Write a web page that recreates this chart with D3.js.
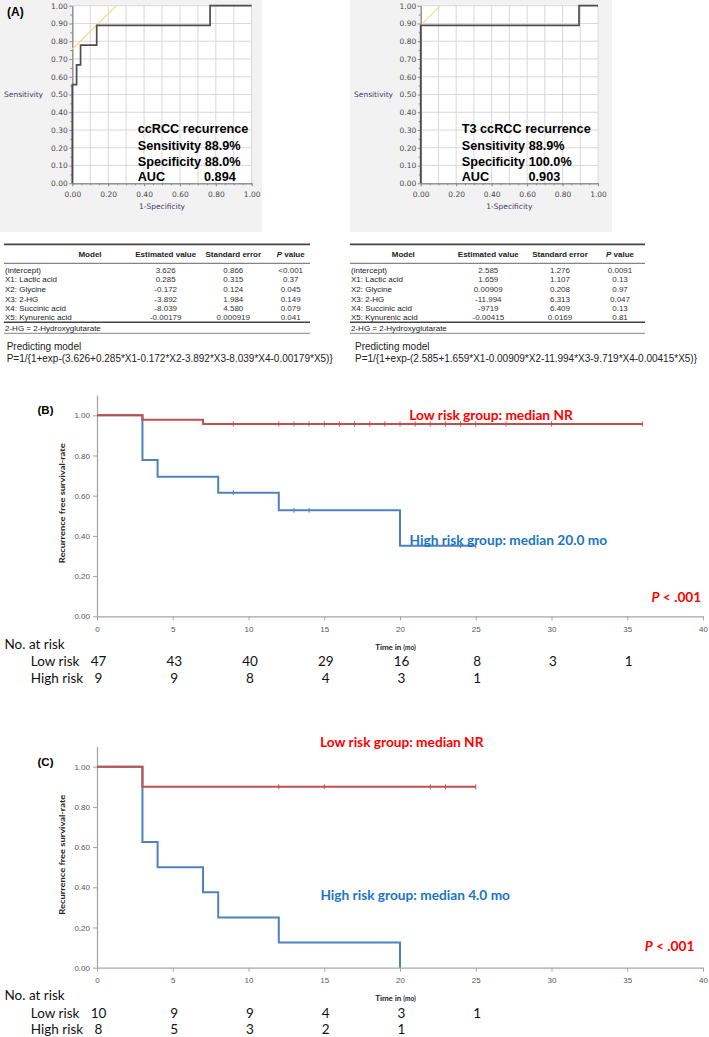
<!DOCTYPE html>
<html><head><meta charset="utf-8">
<script src="https://cdn.jsdelivr.net/npm/d3@7"></script>
<style>body{margin:0;background:#fff} svg{display:block}</style>
</head><body>
<svg id="fig" width="709" height="1037"></svg>
<script>
// ================= DATA =================
// ROC (A)
const rocTicks = [0, 0.1, 0.2, 0.3, 0.4, 0.5, 0.6, 0.7, 0.8, 0.9, 1.0];
const rocXLabels = [0, 0.2, 0.4, 0.6, 0.8, 1.0];
const rocMinor = [0.05, 0.15, 0.25, 0.35, 0.45, 0.55, 0.65, 0.75, 0.85, 0.95];
const rocFprA = [0, 0, 0.024, 0.024, 0.046, 0.046, 0.136, 0.136, 0.768, 0.768, 1];
const rocTprA = [0, 0.556, 0.556, 0.667, 0.667, 0.778, 0.778, 0.889, 0.889, 1, 1];
const cutLineA = [[0, 0.755], [0.245, 1]];
const rocFprB = [0, 0, 0.893, 0.893, 1];
const rocTprB = [0, 0.889, 0.889, 1, 1];
const cutLineB = [[0, 0.889], [0.111, 1]];
const rocTextA = ["ccRCC recurrence", "Sensitivity 88.9%", "Specificity 88.0%", "AUC"];
const aucA = "0.894";
const rocTextB = ["T3 ccRCC recurrence", "Sensitivity 88.9%", "Specificity 100.0%", "AUC"];
const aucB = "0.903";

// Tables
const tableHeaders = ["Model", "Estimated value", "Standard error", "P value"];
const modelTerms = ["(intercept)", "X1: Lactic acid", "X2: Glycine", "X3: 2-HG", "X4: Succinic acid", "X5: Kynurenic acid"];
const estA = ["3.626", "0.285", "-0.172", "-3.892", "-8.039", "-0.00179"];
const seA  = ["0.866", "0.315", "0.124", "1.984", "4.580", "0.000919"];
const pA   = ["<0.001", "0.37", "0.045", "0.149", "0.079", "0.041"];
const estB = ["2.585", "1.659", "0.00909", "-11.994", "-9719", "-0.00415"];
const seB  = ["1.276", "1.107", "0.208", "6.313", "6.409", "0.0169"];
const pB   = ["0.0091", "0.13", "0.97", "0.047", "0.13", "0.81"];
const footnote = "2-HG = 2-Hydroxyglutarate";
const formulaTitle = "Predicting model";
const formulaA = "P=1/{1+exp-(3.626+0.285*X1-0.172*X2-3.892*X3-8.039*X4-0.00179*X5)}";
const formulaB = "P=1/{1+exp-(2.585+1.659*X1-0.00909*X2-11.994*X3-9.719*X4-0.00415*X5)}";

// Kaplan-Meier
const kmTicksX = [0, 5, 10, 15, 20, 25, 30, 35, 40];
const kmTicksY = [0, 0.2, 0.4, 0.6, 0.8, 1.0];
// (B)
const bLowT = [0, 3, 7];
const bLowS = [1, 0.978, 0.957];
const bLowEnd = 36;
const bLowCens = [9, 12, 13, 14, 15, 16, 17, 18, 19, 20, 21, 22, 23, 24, 25, 27, 30, 36];
const bHighT = [0, 3, 4, 8, 12, 20];
const bHighS = [1, 0.778, 0.694, 0.615, 0.527, 0.351];
const bHighEnd = 25;
const bHighCens = [9, 13, 14, 24, 25];
// (C)
const cLowT = [0, 3];
const cLowS = [1, 0.9];
const cLowEnd = 25;
const cLowCens = [12, 15, 22, 23, 25];
const cHighT = [0, 3, 4, 7, 8, 12, 20];
const cHighS = [1, 0.625, 0.5, 0.375, 0.25, 0.125, 0];
const cHighEnd = 20;
const cHighCens = [];
// numbers at risk
const riskTimes = [0, 5, 10, 15, 20, 25, 30, 35];
const bRiskLow = [47, 43, 40, 29, 16, 8, 3, 1];
const bRiskHigh = [9, 9, 8, 4, 3, 1];
const cRiskLow = [10, 9, 9, 4, 3, 1];
const cRiskHigh = [8, 5, 3, 2, 1];
const lowLabelB = "Low risk group: median NR";
const highLabelB = "High risk group: median 20.0 mo";
const lowLabelC = "Low risk group: median NR";
const highLabelC = "High risk group: median 4.0 mo";

// ================= DRAWING =================
const svg = d3.select("#fig");
const F_ARIAL = "'Liberation Sans', Arial, sans-serif";
const F_TAH = "'DejaVu Sans', Verdana, sans-serif";
const F_CAL = "Lato, 'Open Sans', sans-serif";

function txt(g, x, y, s, o = {}) {
  const t = g.append("text").attr("x", x).attr("y", y).attr("dy", "0.35em")
    .attr("font-family", o.ff || F_ARIAL).attr("font-size", o.fs || 10)
    .attr("fill", o.fill || "#000").attr("text-anchor", o.anchor || "start")
    .attr("font-weight", o.fw || "normal").text(s);
  if (o.fst) t.attr("font-style", o.fst);
  return t;
}

// ---------- ROC panels ----------
function rocPanel(o) {
  const g = svg.append("g");
  g.append("rect").attr("x", o.bgx0).attr("y", 0).attr("width", o.bgx1 - o.bgx0).attr("height", 232).attr("fill", "#f2f2f2");
  const x = d3.scaleLinear([0, 1], [o.x0, o.x1]);
  const y = d3.scaleLinear([0, 1], [183.3, 5.7]);
  g.append("rect").attr("x", x(0)).attr("y", y(1)).attr("width", x(1) - x(0)).attr("height", y(0) - y(1)).attr("fill", "#fff");
  // grid
  g.selectAll(".gv").data(rocTicks.slice(1)).join("line")
    .attr("x1", d => x(d)).attr("x2", d => x(d)).attr("y1", y(0)).attr("y2", y(1))
    .attr("stroke", "#d8d8d8").attr("stroke-width", 1);
  g.selectAll(".gh").data(rocTicks.slice(1)).join("line")
    .attr("y1", d => y(d)).attr("y2", d => y(d)).attr("x1", x(0)).attr("x2", x(1))
    .attr("stroke", "#d8d8d8").attr("stroke-width", 1);
  // axes
  const ax = g.append("g").attr("transform", `translate(0,${y(0)})`)
    .call(d3.axisBottom(x).tickValues(rocXLabels).tickFormat(d3.format(".2f")).tickSize(3).tickSizeOuter(0).tickPadding(5));
  const axm = g.append("g").attr("transform", `translate(0,${y(0)})`)
    .call(d3.axisBottom(x).tickValues(rocTicks.concat(rocMinor)).tickFormat("").tickSize(2).tickSizeOuter(0));
  const ay = g.append("g").attr("transform", `translate(${x(0)},0)`)
    .call(d3.axisLeft(y).tickValues(rocTicks).tickFormat(d3.format(".2f")).tickSize(3).tickSizeOuter(0).tickPadding(1.5));
  const aym = g.append("g").attr("transform", `translate(${x(0)},0)`)
    .call(d3.axisLeft(y).tickValues(rocMinor).tickFormat("").tickSize(2).tickSizeOuter(0));
  [ax, axm, ay, aym].forEach(a => {
    a.select(".domain").attr("stroke", "#8c8c8c");
    a.selectAll(".tick line").attr("stroke", "#8c8c8c");
    a.selectAll("text").attr("font-family", F_TAH).attr("font-size", 7.5).attr("fill", "#4a4a4a");
  });
  // labels
  txt(g, o.bgx0 + 4, 94.3, "Sensitivity", { ff: F_TAH, fs: 7.5, fill: "#45405a" });
  txt(g, (x(0) + x(1)) / 2, 206.7, "1-Specificity", { ff: F_TAH, fs: 7.5, fill: "#45405a", anchor: "middle" });
  // cut line
  g.append("line").attr("x1", x(o.cut[0][0])).attr("y1", y(o.cut[0][1]))
    .attr("x2", x(o.cut[1][0])).attr("y2", y(o.cut[1][1]))
    .attr("stroke", "#ece08a").attr("stroke-width", 1.2);
  // curve
  const pts = o.fpr.map((f, i) => [f, o.tpr[i]]);
  g.append("path").attr("d", d3.line().x(d => x(d[0])).y(d => y(d[1]))(pts))
    .attr("fill", "none").attr("stroke", "#4d4d4d").attr("stroke-width", 1.7);
  // text block
  const ty = [129, 145.7, 161.3, 176.7];
  o.text.forEach((s, i) => txt(g, o.tx, ty[i], s, { fs: 12.7, fw: "bold" }));
  txt(g, o.aucx, ty[3], o.auc, { fs: 12.7, fw: "bold" });
}
rocPanel({ bgx0: 0, bgx1: 262, x0: 72.3, x1: 251.7, fpr: rocFprA, tpr: rocTprA, cut: cutLineA, text: rocTextA, auc: aucA, tx: 137.7, aucx: 204 });
rocPanel({ bgx0: 350, bgx1: 612, x0: 420.7, x1: 598, fpr: rocFprB, tpr: rocTprB, cut: cutLineB, text: rocTextB, auc: aucB, tx: 461.7, aucx: 528.5 });
txt(svg, 7, 12, "(A)", { fs: 12, fw: "bold" });

// ---------- Tables ----------
function table(o) {
  const g = svg.append("g");
  const line = (yy, w, c) => g.append("line").attr("x1", o.x0).attr("x2", o.x1).attr("y1", yy).attr("y2", yy).attr("stroke", c).attr("stroke-width", w);
  line(244.3, 1.8, "#444");
  line(263.3, 0.9, "#555");
  line(322.3, 1.6, "#444");
  line(333.3, 0.9, "#777");
  tableHeaders.forEach((h, i) => {
    const t = txt(g, o.cols[i], 254.5, "", { fs: 8, fw: "bold", anchor: "middle", fill: "#222" });
    if (h === "P value") {
      t.append("tspan").attr("font-style", "italic").text("P");
      t.append("tspan").text(" value");
    } else t.text(h);
  });
  const rowY = [270, 279.6, 289.2, 298.7, 308.1, 317.4];
  modelTerms.forEach((m, i) => {
    txt(g, o.x0 + 1, rowY[i], m, { fs: 8, fill: "#222" });
    txt(g, o.cols[1], rowY[i], o.est[i], { fs: 8, fill: "#333", anchor: "middle" });
    txt(g, o.cols[2], rowY[i], o.se[i], { fs: 8, fill: "#333", anchor: "middle" });
    txt(g, o.cols[3], rowY[i], o.p[i], { fs: 8, fill: "#333", anchor: "middle" });
  });
  txt(g, o.x0 + 1, 327.8, footnote, { fs: 8, fill: "#222" });
  txt(g, o.fx, 346, formulaTitle, { fs: 10, fill: "#222" });
  txt(g, o.fx, 358.3, o.formula, { fs: 10, fill: "#222" });
}
table({ x0: 4, x1: 310, cols: [90, 165.7, 233.3, 290.7], est: estA, se: seA, p: pA, fx: 6.7, formula: formulaA });
table({ x0: 350, x1: 645, cols: [403.3, 488.3, 560, 620], est: estB, se: seB, p: pB, fx: 355, formula: formulaB });

// ---------- KM panels ----------
function kmPanel(o) {
  const g = svg.append("g");
  const x = d3.scaleLinear([0, 40], [97, 703]);
  const y = d3.scaleLinear([0, 1.1], [o.y0, o.y0 - 221.1]);
  const ax = g.append("g").attr("transform", `translate(0,${y(0)})`)
    .call(d3.axisBottom(x).tickValues(kmTicksX).tickSize(4).tickSizeOuter(0).tickPadding(6));
  const ay = g.append("g").attr("transform", `translate(${x(0)},0)`)
    .call(d3.axisLeft(y).tickValues(kmTicksY).tickFormat(d3.format(".2f")).tickSize(4).tickSizeOuter(0).tickPadding(3));
  [ax, ay].forEach(a => {
    a.select(".domain").attr("stroke", "#a6a6a6").attr("stroke-width", 1.3);
    a.selectAll(".tick line").attr("stroke", "#a6a6a6");
    a.selectAll("text").attr("font-family", F_ARIAL).attr("font-size", 8).attr("fill", "#595959");
  });
  // y label
  g.append("text").attr("transform", `translate(61.7,${o.y0 - 113}) rotate(-90)`)
    .attr("text-anchor", "middle").attr("dy", "0.35em").attr("font-family", F_CAL).attr("font-weight", "bold")
    .attr("font-size", 8).attr("fill", "#222").attr("textLength", 120).attr("lengthAdjust", "spacingAndGlyphs")
    .text("Recurrence free survival-rate");
  // x label
  const xl = g.append("text").attr("x", 395.5).attr("y", o.y0 + 28).attr("dy", "0.35em")
    .attr("text-anchor", "middle").attr("font-family", F_CAL).attr("font-weight", "bold").attr("fill", "#222");
  xl.append("tspan").attr("font-size", 8).text("Time in ");
  xl.append("tspan").attr("font-size", 6.5).text("(mo)");
  // curves (high first so low is on top)
  const curve = (T, S, end, cens, color) => {
    const pts = T.map((t, i) => [t, S[i]]).concat([[end, S[S.length - 1]]]);
    g.append("path").attr("d", d3.line().x(d => x(d[0])).y(d => y(d[1])).curve(d3.curveStepAfter)(pts))
      .attr("fill", "none").attr("stroke", color).attr("stroke-width", 2);
    const sAt = t => { let s = S[0]; T.forEach((tt, i) => { if (tt <= t) s = S[i]; }); return s; };
    g.selectAll(null).data(cens).join("line")
      .attr("x1", d => x(d)).attr("x2", d => x(d))
      .attr("y1", d => y(sAt(d)) - 2.5).attr("y2", d => y(sAt(d)) + 2.5)
      .attr("stroke", color).attr("stroke-width", 1);
  };
  curve(o.hT, o.hS, o.hEnd, o.hCens, "#4f81bd");
  curve(o.lT, o.lS, o.lEnd, o.lCens, "#c0504d");
  // labels
  txt(g, o.lowX, o.lowY, o.lowLabel, { ff: F_CAL, fs: 13.7, fw: "bold", fill: "#ff0000" });
  txt(g, o.highX, o.highY, o.highLabel, { ff: F_CAL, fs: 13.7, fw: "bold", fill: "#1a75c4" });
  const pt = txt(g, o.pX, o.pY, "", { ff: F_CAL, fs: 13.7, fw: "bold", fill: "#ff0000" });
  pt.append("tspan").attr("font-style", "italic").text("P");
  pt.append("tspan").text(" < .001");
  txt(g, 37.5, o.y0 - 206, o.tag, { fs: 11.5, fw: "bold" });
  // numbers at risk
  txt(g, 4.5, o.y0 + 28, "No. at risk", { ff: F_CAL, fs: 13.5, fill: "#111" });
  txt(g, 30.8, o.y0 + 45.4, "Low risk", { ff: F_CAL, fs: 13.5, fill: "#111" });
  txt(g, 30.8, o.y0 + 61.8, "High risk", { ff: F_CAL, fs: 13.5, fill: "#111" });
  o.rLow.forEach((n, i) => txt(g, x(riskTimes[i]) + 1.5, o.y0 + 45.4, n, { ff: F_CAL, fs: 13.5, fill: "#111", anchor: "middle" }));
  o.rHigh.forEach((n, i) => txt(g, x(riskTimes[i]) + 1.5, o.y0 + 61.8, n, { ff: F_CAL, fs: 13.5, fill: "#111", anchor: "middle" }));
}
kmPanel({ y0: 616.3, tag: "(B)", lT: bLowT, lS: bLowS, lEnd: bLowEnd, lCens: bLowCens,
  hT: bHighT, hS: bHighS, hEnd: bHighEnd, hCens: bHighCens,
  lowLabel: lowLabelB, lowX: 409.3, lowY: 415, highLabel: highLabelB, highX: 409.5, highY: 540,
  pX: 651.6, pY: 597.7, rLow: bRiskLow, rHigh: bRiskHigh });
kmPanel({ y0: 967.7, tag: "(C)", lT: cLowT, lS: cLowS, lEnd: cLowEnd, lCens: cLowCens,
  hT: cHighT, hS: cHighS, hEnd: cHighEnd, hCens: cHighCens,
  lowLabel: lowLabelC, lowX: 320, lowY: 742.7, highLabel: highLabelC, highX: 320.4, highY: 895,
  pX: 644.8, pY: 946.7, rLow: cRiskLow, rHigh: cRiskHigh });
</script>
</body></html>
